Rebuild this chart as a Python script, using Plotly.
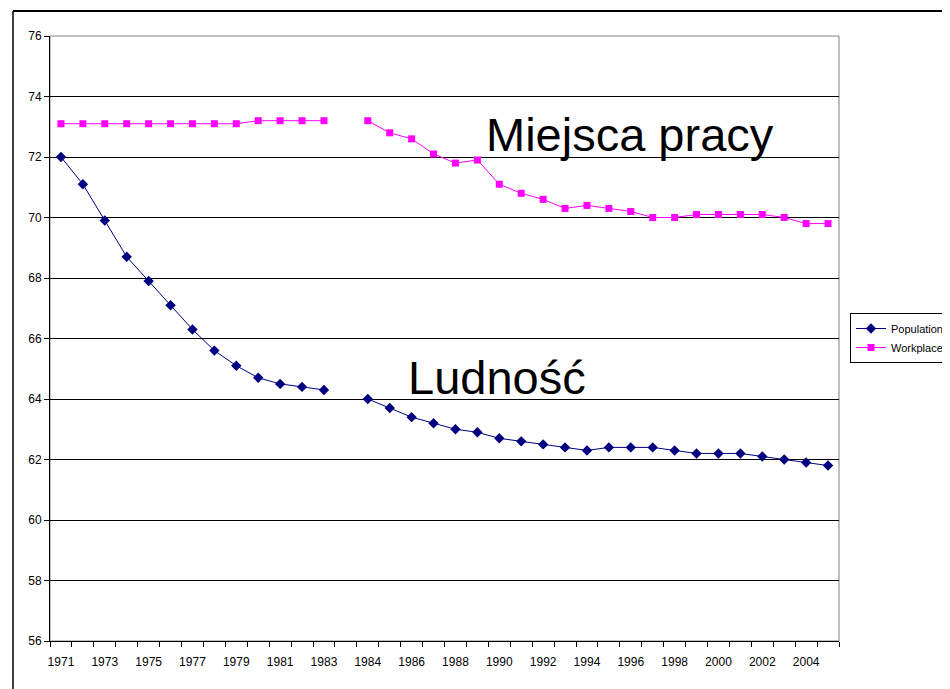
import plotly.graph_objects as go

# ---- data ----
years = ["1971", "1972", "1973", "1974", "1975", "1976", "1977", "1978", "1979",
         "1980", "1981", "1982", "1983", " ", "1984", "1985", "1986", "1987",
         "1988", "1989", "1990", "1991", "1992", "1993", "1994", "1995", "1996",
         "1997", "1998", "1999", "2000", "2001", "2002", "2003", "2004", "2005"]
tick_labels = ["1971", "", "1973", "", "1975", "", "1977", "", "1979", "",
               "1981", "", "1983", "", "1984", "", "1986", "", "1988", "",
               "1990", "", "1992", "", "1994", "", "1996", "", "1998", "",
               "2000", "", "2002", "", "2004", ""]
population = [72.0, 71.1, 69.9, 68.7, 67.9, 67.1, 66.3, 65.6, 65.1,
              64.7, 64.5, 64.4, 64.3, None, 64.0, 63.7, 63.4, 63.2,
              63.0, 62.9, 62.7, 62.6, 62.5, 62.4, 62.3, 62.4, 62.4,
              62.4, 62.3, 62.2, 62.2, 62.2, 62.1, 62.0, 61.9, 61.8]
workplaces = [73.1, 73.1, 73.1, 73.1, 73.1, 73.1, 73.1, 73.1, 73.1,
              73.2, 73.2, 73.2, 73.2, None, 73.2, 72.8, 72.6, 72.1,
              71.8, 71.9, 71.1, 70.8, 70.6, 70.3, 70.4, 70.3, 70.2,
              70.0, 70.0, 70.1, 70.1, 70.1, 70.1, 70.0, 69.8, 69.8]
series_names = ["Population", "Workplaces"]

FONT = "Arial, 'Liberation Sans', sans-serif"

fig = go.Figure()
fig.add_trace(go.Scatter(
    x=years, y=population, name=series_names[0], mode="lines+markers",
    line=dict(color="#000080", width=1),
    marker=dict(symbol="diamond", size=8, color="#000080"),
    connectgaps=False,
))
fig.add_trace(go.Scatter(
    x=years, y=workplaces, name=series_names[1], mode="lines+markers",
    line=dict(color="#FF00FF", width=1),
    marker=dict(symbol="square", size=7, color="#FF00FF"),
    connectgaps=False,
))

OFF = 8  # page body margin
W, H = 950 - OFF, 689 - OFF
L, T = 50 - OFF, 36 - OFF
R = W - (839 - OFF)
B = H - (641 - OFF)
pw, ph = W - L - R, H - T - B


def px(x):
    return (x - OFF - L) / pw


def py(y):
    return 1 - (y - OFF - T) / ph


fig.update_layout(
    width=W, height=H,
    margin=dict(l=L, r=R, t=T, b=B, pad=0, autoexpand=False),
    paper_bgcolor="white", plot_bgcolor="white",
    font=dict(family=FONT, size=12, color="black"),
    showlegend=True,
    legend=dict(
        x=px(850), y=py(313), xanchor="left", yanchor="top",
        bordercolor="black", borderwidth=1, bgcolor="white",
        font=dict(family=FONT, size=11, color="black"),
        tracegroupgap=0, itemwidth=30,
    ),
    xaxis=dict(
        type="category", categoryorder="array", categoryarray=years,
        tickmode="array", tickvals=years, ticktext=tick_labels,
        tickson="boundaries", ticks="outside", ticklen=5, tickcolor="black",
        showline=True, linecolor="black", linewidth=1,
        showgrid=False, zeroline=False, automargin=False, tickangle=0,
        tickfont=dict(family=FONT, size=12, color="black"),
        ticklabelstandoff=10,
        range=[-0.5, len(years) - 0.5],
    ),
    yaxis=dict(
        range=[56, 76], dtick=2, tick0=56,
        ticks="outside", ticklen=5, tickcolor="black",
        showline=True, linecolor="black", linewidth=1,
        showgrid=True, gridcolor="black", gridwidth=1,
        zeroline=False, automargin=False,
        tickfont=dict(family=FONT, size=12, color="black"),
    ),
    shapes=[
        # plot area border (gray)
        dict(type="rect", xref="paper", yref="paper", x0=0, x1=1, y0=0, y1=1,
             line=dict(color="#808080", width=1), layer="below"),
        # outer chart frame (top and left)
        dict(type="line", xref="paper", yref="paper",
             x0=px(13), x1=px(960), y0=py(11), y1=py(11),
             line=dict(color="black", width=2)),
        dict(type="line", xref="paper", yref="paper",
             x0=px(13), x1=px(13), y0=py(11), y1=py(700),
             line=dict(color="black", width=1.5)),
    ],
    annotations=[
        dict(text="Miejsca pracy", xref="paper", yref="paper",
             x=px(630), y=py(135), xanchor="center", yanchor="middle",
             showarrow=False, font=dict(family=FONT, size=47, color="black")),
        dict(text="Ludność", xref="paper", yref="paper",
             x=px(497), y=py(377), xanchor="center", yanchor="middle",
             showarrow=False, font=dict(family=FONT, size=47, color="black")),
    ],
)

fig.write_html("out.html")
